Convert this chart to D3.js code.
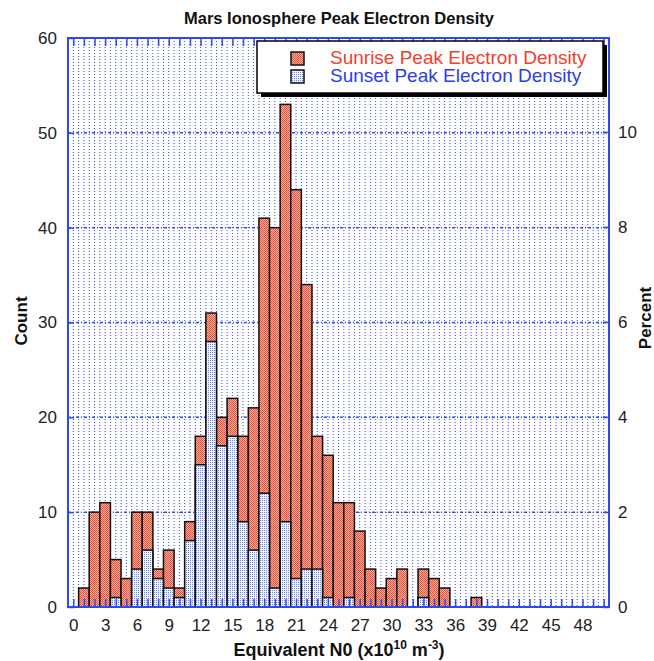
<!DOCTYPE html>
<html>
<head>
<meta charset="utf-8">
<script src="https://cdn.jsdelivr.net/npm/d3@7"></script>
<style>
body { margin: 0; background: #fff; }
text { font-family: "Liberation Sans", Arial, Helvetica, sans-serif; }
</style>
</head>
<body>
<div id="chart"></div>
<script>
// bins of equivalent N0 (x10^10 m^-3), one count per bin
var bins = [1, 2, 3, 4, 5, 6, 7, 8, 9, 10, 11, 12, 13, 14, 15, 16, 17, 18, 19, 20,
            21, 22, 23, 24, 25, 26, 27, 28, 29, 30, 31, 32, 33, 34, 35, 36, 37, 38];
var sunrise = [2, 10, 11, 5, 3, 10, 10, 4, 6, 2, 9, 18, 31, 20, 22, 18, 21, 41, 40, 53,
               44, 34, 18, 16, 11, 11, 8, 4, 2, 3, 4, 0, 4, 3, 2, 0, 0, 1];
var sunset = [0, 0, 0, 1, 0, 4, 6, 3, 2, 1, 7, 15, 28, 17, 18, 9, 6, 12, 2, 9,
              3, 4, 4, 1, 0, 1, 0, 0, 0, 0, 0, 0, 1, 0, 0, 0, 0, 0];
var xTicks = [0, 3, 6, 9, 12, 15, 18, 21, 24, 27, 30, 33, 36, 39, 42, 45, 48];
var countTicks = [0, 10, 20, 30, 40, 50, 60];
var percentTicks = [0, 2, 4, 6, 8, 10];

function drawChart() {
    var blue = "#2f48f2";
    var pL = 68, pR = 609, pT = 38, pB = 607;

    var svg = d3.select("#chart").append("svg")
        .attr("width", 654)
        .attr("height", 661);

    var x = d3.scaleLinear().domain([-0.5, 50.5]).range([pL, pR]);
    var y = d3.scaleLinear().domain([0, 60]).range([pB, pT]);
    var total = d3.sum(sunrise);
    var yp = d3.scaleLinear().domain([0, 60 / total * 100]).range([pB, pT]);

    // dithered fills like the original
    var defs = svg.append("defs");
    var pr = defs.append("pattern").attr("id", "redfill")
        .attr("width", 2).attr("height", 2).attr("patternUnits", "userSpaceOnUse");
    pr.append("rect").attr("width", 2).attr("height", 2).attr("fill", "#f7ab9b");
    pr.append("rect").attr("width", 1).attr("height", 1).attr("fill", "#e4543f");
    pr.append("rect").attr("x", 1).attr("y", 1).attr("width", 1).attr("height", 1).attr("fill", "#e4543f");
    var pb = defs.append("pattern").attr("id", "bluefill")
        .attr("width", 2).attr("height", 2).attr("patternUnits", "userSpaceOnUse");
    pb.append("rect").attr("width", 2).attr("height", 2).attr("fill", "#eef2fe");
    pb.append("rect").attr("width", 1).attr("height", 1).attr("fill", "#6b88f0");

    // grid
    svg.append("g").selectAll("line")
        .data(d3.range(0, 50.5, 0.5))
        .enter().append("line")
        .attr("x1", d => x(d)).attr("x2", d => x(d))
        .attr("y1", pT).attr("y2", pB)
        .attr("stroke", blue).attr("stroke-width", 1)
        .attr("stroke-dasharray", "1,2");

    svg.append("g").selectAll("line")
        .data(countTicks.slice(1, -1))
        .enter().append("line")
        .attr("x1", pL).attr("x2", pR)
        .attr("y1", d => y(d)).attr("y2", d => y(d))
        .attr("stroke", blue).attr("stroke-width", 1.5)
        .attr("stroke-dasharray", "3,2,1,2");

    // bars: sunrise behind, sunset in front
    svg.append("g").selectAll("rect")
        .data(bins)
        .enter().append("rect")
        .attr("x", d => x(d - 0.5))
        .attr("width", d => x(d + 0.5) - x(d - 0.5))
        .attr("y", (d, i) => y(sunrise[i]))
        .attr("height", (d, i) => y(0) - y(sunrise[i]))
        .attr("fill", "url(#redfill)")
        .attr("stroke", "#111").attr("stroke-width", 1.5)
        .style("display", (d, i) => sunrise[i] > 0 ? null : "none");

    svg.append("g").selectAll("rect")
        .data(bins)
        .enter().append("rect")
        .attr("x", d => x(d - 0.5))
        .attr("width", d => x(d + 0.5) - x(d - 0.5))
        .attr("y", (d, i) => y(sunset[i]))
        .attr("height", (d, i) => y(0) - y(sunset[i]))
        .attr("fill", "url(#bluefill)")
        .attr("stroke", "#111").attr("stroke-width", 1.5)
        .style("display", (d, i) => sunset[i] > 0 ? null : "none");

    // inner ticks on all four sides
    var topTicks = svg.append("g").attr("transform", "translate(0," + pT + ")")
        .call(d3.axisTop(x).tickValues(d3.range(0, 51)).tickSize(-8).tickFormat(""));
    var botTicks = svg.append("g").attr("transform", "translate(0," + pB + ")")
        .call(d3.axisBottom(x).tickValues(d3.range(0, 51)).tickSize(-8).tickFormat(""));
    var leftTicks = svg.append("g").attr("transform", "translate(" + pL + ",0)")
        .call(d3.axisLeft(y).tickValues(countTicks).tickSize(-6).tickPadding(11));
    var rightTicks = svg.append("g").attr("transform", "translate(" + pR + ",0)")
        .call(d3.axisRight(yp).tickValues(percentTicks).tickSize(-6).tickPadding(9));
    var xLabels = svg.append("g").attr("transform", "translate(0," + pB + ")")
        .call(d3.axisBottom(x).tickValues(xTicks).tickSize(0).tickPadding(12));

    [topTicks, botTicks, leftTicks, rightTicks, xLabels].forEach(function(g) {
        g.select(".domain").remove();
        g.selectAll(".tick line").attr("stroke", blue).attr("stroke-width", 1.5);
        g.selectAll(".tick text").attr("fill", "#222").style("font-size", "17px")
            .style("font-family", '"Liberation Sans", Arial, sans-serif');
    });

    // frame
    svg.append("rect")
        .attr("x", pL).attr("y", pT)
        .attr("width", pR - pL).attr("height", pB - pT)
        .attr("fill", "none").attr("stroke", blue).attr("stroke-width", 2);

    // legend
    svg.append("rect").attr("x", 261).attr("y", 45).attr("width", 346).attr("height", 52).attr("fill", "#000");
    svg.append("rect").attr("x", 257).attr("y", 41).attr("width", 346).attr("height", 52)
        .attr("fill", "#fff").attr("stroke", "#000").attr("stroke-width", 1.5);
    svg.append("rect").attr("x", 291).attr("y", 52).attr("width", 13).attr("height", 13)
        .attr("fill", "url(#redfill)").attr("stroke", "#111").attr("stroke-width", 1.5);
    svg.append("rect").attr("x", 291).attr("y", 70).attr("width", 13).attr("height", 13)
        .attr("fill", "url(#bluefill)").attr("stroke", "#111").attr("stroke-width", 1.5);
    svg.append("text").attr("x", 330).attr("y", 64).attr("fill", "#f0402e")
        .style("font-size", "19px").text("Sunrise Peak Electron Density");
    svg.append("text").attr("x", 330).attr("y", 82).attr("fill", "#2b3df0")
        .style("font-size", "19px").text("Sunset Peak Electron Density");

    // titles
    svg.append("text").attr("x", 339).attr("y", 24).attr("text-anchor", "middle")
        .style("font-size", "16.5px").style("font-weight", "bold").attr("fill", "#111")
        .text("Mars Ionosphere Peak Electron Density");

    svg.append("text").attr("transform", "translate(27,321) rotate(-90)")
        .attr("text-anchor", "middle").style("font-size", "17px").style("font-weight", "bold")
        .attr("fill", "#111").text("Count");

    svg.append("text").attr("transform", "translate(651,318) rotate(-90)")
        .attr("text-anchor", "middle").style("font-size", "17px").style("font-weight", "bold")
        .attr("fill", "#111").text("Percent");

    var xt = svg.append("text").attr("x", 339).attr("y", 656).attr("text-anchor", "middle")
        .style("font-size", "18px").style("font-weight", "bold").attr("fill", "#111");
    xt.append("tspan").text("Equivalent N0 (x10");
    xt.append("tspan").attr("dy", -7).style("font-size", "12px").text("10");
    xt.append("tspan").attr("dy", 7).text(" m");
    xt.append("tspan").attr("dy", -7).style("font-size", "12px").text("-3");
    xt.append("tspan").attr("dy", 7).text(")");
}

drawChart();
</script>
</body>
</html>
